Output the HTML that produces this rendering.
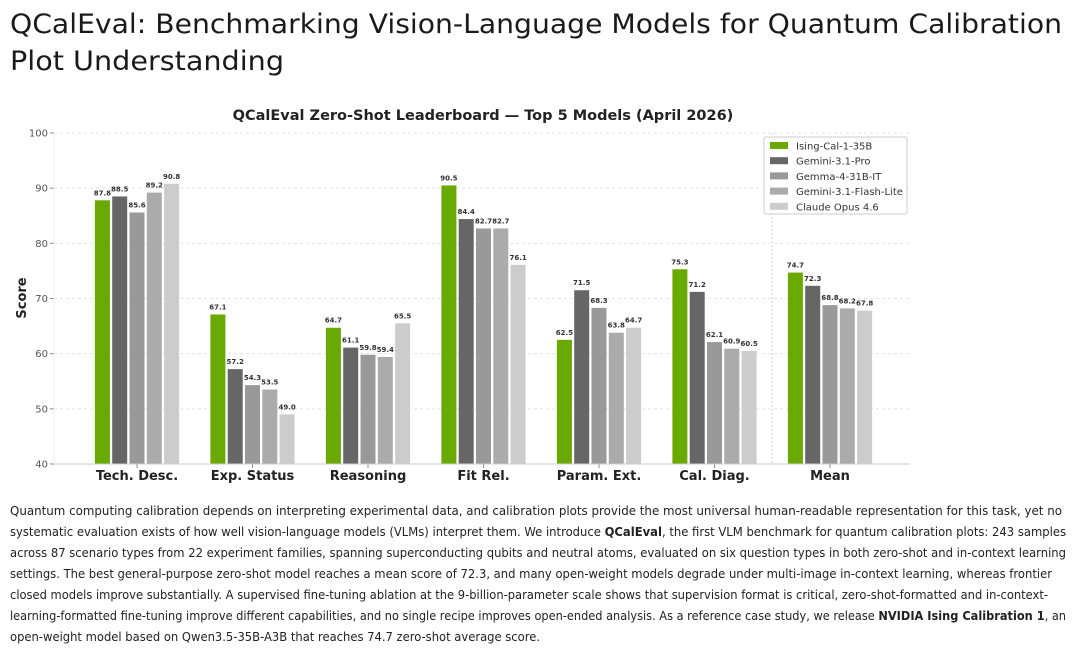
<!DOCTYPE html>
<html><head><meta charset="utf-8"><style>
html,body{margin:0;padding:0;background:#fff;width:1080px;height:651px;overflow:hidden}
svg{display:block}
</style></head><body>
<svg id="page" width="1080" height="651" viewBox="0 0 1080 651" xmlns="http://www.w3.org/2000/svg" font-family="DejaVu Sans, Liberation Sans, sans-serif">
<g fill="#1a1a1a" font-size="27">
<text x="10" y="33" textLength="1052" lengthAdjust="spacingAndGlyphs">QCalEval: Benchmarking Vision-Language Models for Quantum Calibration</text>
<text x="10" y="70" textLength="274" lengthAdjust="spacingAndGlyphs">Plot Understanding</text>
</g>
<text x="483" y="120" text-anchor="middle" font-size="14.5" font-weight="bold" fill="#222">QCalEval Zero-Shot Leaderboard — Top 5 Models (April 2026)</text>
<g id="grid"></g>
<line x1="772" y1="133" x2="772" y2="464" stroke="#ccc" stroke-width="1" stroke-dasharray="2,2"/>
<g id="bars"></g>
<line x1="54" y1="464" x2="910" y2="464" stroke="#ccc"/>
<line x1="54" y1="133" x2="54" y2="464" stroke="#eee"/>
<text transform="translate(26,298) rotate(-90)" text-anchor="middle" font-size="13" font-weight="bold" fill="#222">Score</text>
<g id="legend">
<rect x="764" y="137" width="143" height="77" fill="#fff" stroke="#ccc" rx="2"/>
</g>
<g font-size="12" fill="#222">
<text x="10" y="515" textLength="1052" lengthAdjust="spacingAndGlyphs">Quantum computing calibration depends on interpreting experimental data, and calibration plots provide the most universal human-readable representation for this task, yet no</text>
<text x="10" y="536" textLength="1056" lengthAdjust="spacingAndGlyphs">systematic evaluation exists of how well vision-language models (VLMs) interpret them. We introduce <tspan font-weight="bold">QCalEval</tspan>, the first VLM benchmark for quantum calibration plots: 243 samples</text>
<text x="10" y="557" textLength="1056" lengthAdjust="spacingAndGlyphs">across 87 scenario types from 22 experiment families, spanning superconducting qubits and neutral atoms, evaluated on six question types in both zero-shot and in-context learning</text>
<text x="10" y="578" textLength="1042" lengthAdjust="spacingAndGlyphs">settings. The best general-purpose zero-shot model reaches a mean score of 72.3, and many open-weight models degrade under multi-image in-context learning, whereas frontier</text>
<text x="10" y="599" textLength="1038" lengthAdjust="spacingAndGlyphs">closed models improve substantially. A supervised fine-tuning ablation at the 9-billion-parameter scale shows that supervision format is critical, zero-shot-formatted and in-context-</text>
<text x="10" y="620" textLength="1056" lengthAdjust="spacingAndGlyphs">learning-formatted fine-tuning improve different capabilities, and no single recipe improves open-ended analysis. As a reference case study, we release <tspan font-weight="bold">NVIDIA Ising Calibration 1</tspan>, an</text>
<text x="10" y="641" textLength="530" lengthAdjust="spacingAndGlyphs">open-weight model based on Qwen3.5-35B-A3B that reaches 74.7 zero-shot average score.</text>
</g>
</svg>
<script>
const categories = ["Tech. Desc.","Exp. Status","Reasoning","Fit Rel.","Param. Ext.","Cal. Diag.","Mean"];
const seriesNames = ["Ising-Cal-1-35B","Gemini-3.1-Pro","Gemma-4-31B-IT","Gemini-3.1-Flash-Lite","Claude Opus 4.6"];
const isingCal = [87.8,67.1,64.7,90.5,62.5,75.3,74.7];
const geminiPro = [88.5,57.2,61.1,84.4,71.5,71.2,72.3];
const gemma = [85.6,54.3,59.8,82.7,68.3,62.1,68.8];
const geminiFlash = [89.2,53.5,59.4,82.7,63.8,60.9,68.2];
const claudeOpus = [90.8,49.0,65.5,76.1,64.7,60.5,67.8];
const yTicks = [40,50,60,70,80,90,100];

const series = [isingCal,geminiPro,gemma,geminiFlash,claudeOpus];
const colors = ["#6aaa00","#666666","#999999","#ababab","#cccccc"];
const NS = "http://www.w3.org/2000/svg";
const yMin = 40, yMax = 100, yTop = 133, yBot = 464;
function yScale(v){ return yBot - (v - yMin) / (yMax - yMin) * (yBot - yTop); }
function xCenter(i){ return 137 + i * 115.5; }
const barW = 15, barStep = 17.3;
function mk(tag, attrs, parent){ const e=document.createElementNS(NS,tag); for(const k in attrs) e.setAttribute(k,attrs[k]); parent.appendChild(e); return e; }

const grid = document.getElementById('grid');
yTicks.forEach(t=>{
  const y = yScale(t);
  const l = mk('line',{x1:54,x2:910,y1:y,y2:y,stroke:'#e4e4e4','stroke-dasharray':'3,3'},grid);
  
  
  const tk = mk('line',{x1:50,x2:54,y1:y,y2:y,stroke:'#888'},grid);
  
  
  const tx = mk('text',{x:48,y:y+3.5,'text-anchor':'end','font-size':'10',fill:'#555'},grid);
  tx.textContent = t;
  
  
});

const bars = document.getElementById('bars');
categories.forEach((c,i)=>{
  const cx = xCenter(i);
  series.forEach((s,j)=>{
    const x = cx + (j-2)*barStep - barW/2;
    const y = yScale(s[i]);
    const r = mk('rect',{x:x,y:y,width:barW,height:yBot-y,fill:colors[j]},bars);
    
    
    const t = mk('text',{x:x+barW/2,y:y-5,'text-anchor':'middle','font-size':'7','font-weight':'bold',fill:'#333'},bars);
    t.textContent = s[i].toFixed(1);
    
    
  });
  const tk = mk('line',{x1:cx,x2:cx,y1:yBot,y2:yBot+4,stroke:'#888'},bars);
  
  
  const lt = mk('text',{x:cx,y:480,'text-anchor':'middle','font-size':'13','font-weight':'bold',fill:'#222'},bars);
  lt.textContent = c;
  
  
});

const legend = document.getElementById('legend');
seriesNames.forEach((n,j)=>{
  const y = 146 + j*15.2;
  const sw = mk('rect',{x:770,y:y-4,width:18,height:7,fill:colors[j]},legend);
  
  
  const t = mk('text',{x:796,y:y+3.5,'font-size':'10',fill:'#333'},legend);
  t.textContent = n;
  
  
});
</script>
</body></html>
